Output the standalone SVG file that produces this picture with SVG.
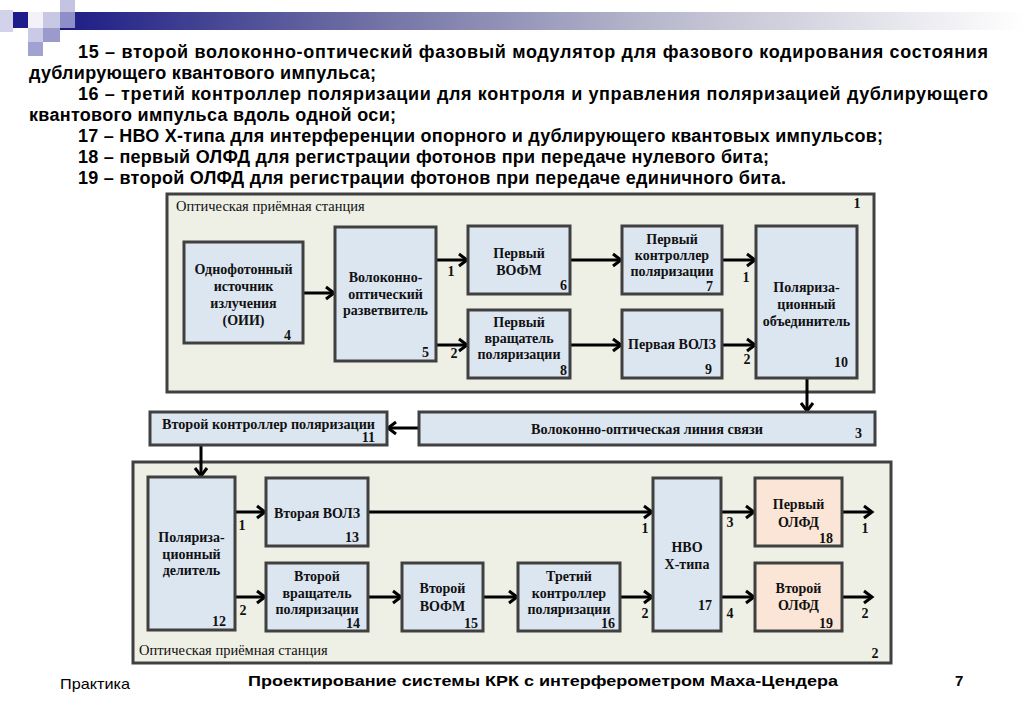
<svg xmlns="http://www.w3.org/2000/svg" width="1024" height="708" viewBox="0 0 1024 708">
<style>
.hd{font-family:"Liberation Sans",Arial,sans-serif;font-weight:bold;font-size:18px;fill:#000}
.ft{font-family:"Liberation Sans",Arial,sans-serif;font-size:15px;fill:#000}
.st{fill:#eeefe5;stroke:#404040;stroke-width:3}
.bx{fill:#dce6f1;stroke:#404040;stroke-width:3}
.pk{fill:#fbe5d6;stroke:#404040;stroke-width:3}
.t{font-family:"Liberation Serif","Times New Roman",serif;font-weight:bold;font-size:14px;fill:#111;text-anchor:middle}
.n{font-family:"Liberation Serif","Times New Roman",serif;font-weight:bold;font-size:14px;fill:#111;text-anchor:end}
.l{font-family:"Liberation Serif","Times New Roman",serif;font-weight:bold;font-size:14px;fill:#111;text-anchor:middle}
.sl{font-family:"Liberation Serif","Times New Roman",serif;font-size:14.5px;fill:#111}
.c{stroke:#000;stroke-width:3;fill:none}
</style>
<defs>
<linearGradient id="bar" x1="0" y1="0" x2="1" y2="0">
<stop offset="0" stop-color="#1c1c86"/>
<stop offset="0.3" stop-color="#6b6ba2"/>
<stop offset="0.62" stop-color="#b9b9cd"/>
<stop offset="1" stop-color="#ffffff"/>
</linearGradient>
<marker id="ah" markerUnits="userSpaceOnUse" markerWidth="14" markerHeight="16" refX="10" refY="8" orient="auto">
<path d="M2,2 L10,8 L2,14" fill="none" stroke="#000" stroke-width="3"/>
</marker>
</defs>
<rect width="1024" height="708" fill="#fff"/>
<g id="header-deco">
<rect x="60" y="12" width="964" height="18" fill="url(#bar)"/>
<rect x="0" y="10" width="13" height="22" fill="#d2d2ea"/>
<rect x="13" y="12" width="15" height="16" fill="#1c1c8a"/>
<rect x="28" y="12" width="15" height="16" fill="#f2f2f8"/>
<rect x="43" y="12" width="17" height="16" fill="#c8c8e4"/>
<rect x="60" y="0" width="15" height="12" fill="#c4c4e2"/>
<rect x="60" y="12" width="15" height="16" fill="#8f8fc8"/>
<rect x="28" y="28" width="15" height="14" fill="#cacae6"/>
<rect x="43" y="28" width="17" height="14" fill="#9a9acc"/>
<rect x="28" y="42" width="15" height="14" fill="#a2a2d2"/>
</g>
<g id="header-text">
<text class="hd" x="78" y="58" textLength="910" lengthAdjust="spacing">15 – второй волоконно-оптический фазовый модулятор для фазового кодирования состояния</text>
<text class="hd" x="29" y="79" textLength="347" lengthAdjust="spacing">дублирующего квантового импульса;</text>
<text class="hd" x="78" y="100" textLength="910" lengthAdjust="spacing">16 – третий контроллер поляризации для контроля и управления поляризацией дублирующего</text>
<text class="hd" x="29" y="121" textLength="367" lengthAdjust="spacing">квантового импульса вдоль одной оси;</text>
<text class="hd" x="78" y="142" textLength="805" lengthAdjust="spacing">17 – НВО Х-типа для интерференции опорного и дублирующего квантовых импульсов;</text>
<text class="hd" x="78" y="163" textLength="691" lengthAdjust="spacing">18 – первый ОЛФД для регистрации фотонов при передаче нулевого бита;</text>
<text class="hd" x="78" y="184" textLength="708" lengthAdjust="spacing">19 – второй ОЛФД для регистрации фотонов при передаче единичного бита.</text>
</g>
<g id="station1">
<rect class="st" x="167" y="194" width="707" height="198"/>
<text class="sl" x="176" y="211">Оптическая приёмная станция</text>
<text class="l" x="857" y="208">1</text>
</g>
<g id="station2">
<rect class="st" x="133" y="462" width="758" height="201"/>
<text class="sl" x="139" y="655">Оптическая приёмная станция</text>
<text class="l" x="875" y="658">2</text>
</g>
<g id="connectors">
<line class="c" x1="303" y1="293" x2="334" y2="293" marker-end="url(#ah)"/>
<line class="c" x1="436" y1="260" x2="467" y2="260" marker-end="url(#ah)"/>
<line class="c" x1="436" y1="345" x2="467" y2="345" marker-end="url(#ah)"/>
<line class="c" x1="570" y1="260" x2="621" y2="260" marker-end="url(#ah)"/>
<line class="c" x1="570" y1="345" x2="621" y2="345" marker-end="url(#ah)"/>
<line class="c" x1="722" y1="260" x2="755" y2="260" marker-end="url(#ah)"/>
<line class="c" x1="722" y1="345" x2="755" y2="345" marker-end="url(#ah)"/>
<line class="c" x1="807" y1="378" x2="807" y2="411" stroke="#333" marker-end="url(#ah)"/>
<line class="c" x1="419" y1="428" x2="388" y2="428" marker-end="url(#ah)"/>
<line class="c" x1="201" y1="445" x2="201" y2="476" stroke="#333" marker-end="url(#ah)"/>
<line class="c" x1="235" y1="512" x2="265" y2="512" marker-end="url(#ah)"/>
<line class="c" x1="235" y1="597" x2="265" y2="597" marker-end="url(#ah)"/>
<line class="c" x1="368" y1="512" x2="652" y2="512" marker-end="url(#ah)"/>
<line class="c" x1="368" y1="597" x2="401" y2="597" marker-end="url(#ah)"/>
<line class="c" x1="483" y1="597" x2="517" y2="597" marker-end="url(#ah)"/>
<line class="c" x1="620" y1="597" x2="652" y2="597" marker-end="url(#ah)"/>
<line class="c" x1="721" y1="512" x2="754" y2="512" marker-end="url(#ah)"/>
<line class="c" x1="721" y1="597" x2="754" y2="597" marker-end="url(#ah)"/>
<line class="c" x1="842" y1="512" x2="872" y2="512" marker-end="url(#ah)"/>
<line class="c" x1="842" y1="597" x2="872" y2="597" marker-end="url(#ah)"/>
<text class="l" x="451" y="276">1</text>
<text class="l" x="454" y="358">2</text>
<text class="l" x="746" y="282">1</text>
<text class="l" x="747" y="364">2</text>
<text class="l" x="242" y="530">1</text>
<text class="l" x="243" y="615">2</text>
<text class="l" x="645" y="533">1</text>
<text class="l" x="645" y="618">2</text>
<text class="l" x="730" y="527">3</text>
<text class="l" x="730" y="618">4</text>
<text class="l" x="865" y="533">1</text>
<text class="l" x="865" y="618">2</text>
</g>
<g id="n4">
<rect class="bx" x="184" y="242" width="119" height="101"/>
<text class="t" x="243.5" y="274">Однофотонный</text>
<text class="t" x="243.5" y="291">источник</text>
<text class="t" x="243.5" y="308">излучения</text>
<text class="t" x="243.5" y="325">(ОИИ)</text>
<text class="n" x="291" y="340">4</text>
</g>
<g id="n5">
<rect class="bx" x="335" y="227" width="101" height="134"/>
<text class="t" x="385.5" y="282">Волоконно-</text>
<text class="t" x="385.5" y="299">оптический</text>
<text class="t" x="385.5" y="315">разветвитель</text>
<text class="n" x="429" y="357">5</text>
</g>
<g id="n6">
<rect class="bx" x="468" y="226" width="102" height="68"/>
<text class="t" x="519" y="258">Первый</text>
<text class="t" x="519" y="275">ВОФМ</text>
<text class="n" x="567" y="290">6</text>
</g>
<g id="n7">
<rect class="bx" x="622" y="226" width="100" height="68"/>
<text class="t" x="672" y="244">Первый</text>
<text class="t" x="672" y="260">контроллер</text>
<text class="t" x="672" y="276">поляризации</text>
<text class="n" x="713" y="291">7</text>
</g>
<g id="n8">
<rect class="bx" x="468" y="310" width="102" height="68"/>
<text class="t" x="519" y="327">Первый</text>
<text class="t" x="519" y="343">вращатель</text>
<text class="t" x="519" y="359">поляризации</text>
<text class="n" x="567" y="375">8</text>
</g>
<g id="n9">
<rect class="bx" x="622" y="310" width="100" height="68"/>
<text class="t" x="672" y="349">Первая ВОЛЗ</text>
<text class="n" x="712" y="374">9</text>
</g>
<g id="n10">
<rect class="bx" x="756" y="226" width="101" height="152"/>
<text class="t" x="806.5" y="292">Поляриза-</text>
<text class="t" x="806.5" y="309">ционный</text>
<text class="t" x="806.5" y="326">объединитель</text>
<text class="n" x="848" y="367">10</text>
</g>
<g id="n11">
<rect class="bx" x="150" y="412" width="237" height="33"/>
<text class="sl" x="162" y="429" font-weight="bold" textLength="213" lengthAdjust="spacingAndGlyphs">Второй контроллер поляризации</text>
<text class="n" x="375" y="442">11</text>
</g>
<g id="n3">
<rect class="bx" x="419" y="412" width="456" height="33"/>
<text class="sl" x="531" y="434" font-weight="bold" textLength="232" lengthAdjust="spacingAndGlyphs">Волоконно-оптическая линия связи</text>
<text class="n" x="862" y="438">3</text>
</g>
<g id="n12">
<rect class="bx" x="148" y="477" width="87" height="153"/>
<text class="t" x="191.5" y="542">Поляриза-</text>
<text class="t" x="191.5" y="559">ционный</text>
<text class="t" x="191.5" y="575">делитель</text>
<text class="n" x="226" y="626">12</text>
</g>
<g id="n13">
<rect class="bx" x="266" y="478" width="102" height="68"/>
<text class="t" x="317" y="518">Вторая ВОЛЗ</text>
<text class="n" x="359" y="542">13</text>
</g>
<g id="n14">
<rect class="bx" x="266" y="563" width="102" height="68"/>
<text class="t" x="317" y="581">Второй</text>
<text class="t" x="317" y="598">вращатель</text>
<text class="t" x="317" y="614">поляризации</text>
<text class="n" x="360" y="628">14</text>
</g>
<g id="n15">
<rect class="bx" x="402" y="563" width="81" height="68"/>
<text class="t" x="442.5" y="593">Второй</text>
<text class="t" x="442.5" y="611">ВОФМ</text>
<text class="n" x="478" y="628">15</text>
</g>
<g id="n16">
<rect class="bx" x="518" y="563" width="102" height="68"/>
<text class="t" x="569" y="581">Третий</text>
<text class="t" x="569" y="598">контроллер</text>
<text class="t" x="569" y="614">поляризации</text>
<text class="n" x="615" y="628">16</text>
</g>
<g id="n17">
<rect class="bx" x="653" y="478" width="68" height="153"/>
<text class="t" x="687" y="552">НВО</text>
<text class="t" x="687" y="569">Х-типа</text>
<text class="n" x="712" y="610">17</text>
</g>
<g id="n18">
<rect class="pk" x="755" y="478" width="87" height="68"/>
<text class="t" x="798.5" y="509">Первый</text>
<text class="t" x="798.5" y="527">ОЛФД</text>
<text class="n" x="833" y="543">18</text>
</g>
<g id="n19">
<rect class="pk" x="755" y="563" width="87" height="68"/>
<text class="t" x="798.5" y="593">Второй</text>
<text class="t" x="798.5" y="610">ОЛФД</text>
<text class="n" x="833" y="628">19</text>
</g>
<g id="footer">
<text class="ft" x="60" y="689" textLength="70" lengthAdjust="spacingAndGlyphs">Практика</text>
<text class="ft" x="248" y="686" font-weight="bold" font-size="16" textLength="590" lengthAdjust="spacingAndGlyphs">Проектирование системы КРК с интерферометром Маха-Цендера</text>
<text class="ft" x="955" y="686" font-weight="bold" font-size="16">7</text>
</g>
</svg>
